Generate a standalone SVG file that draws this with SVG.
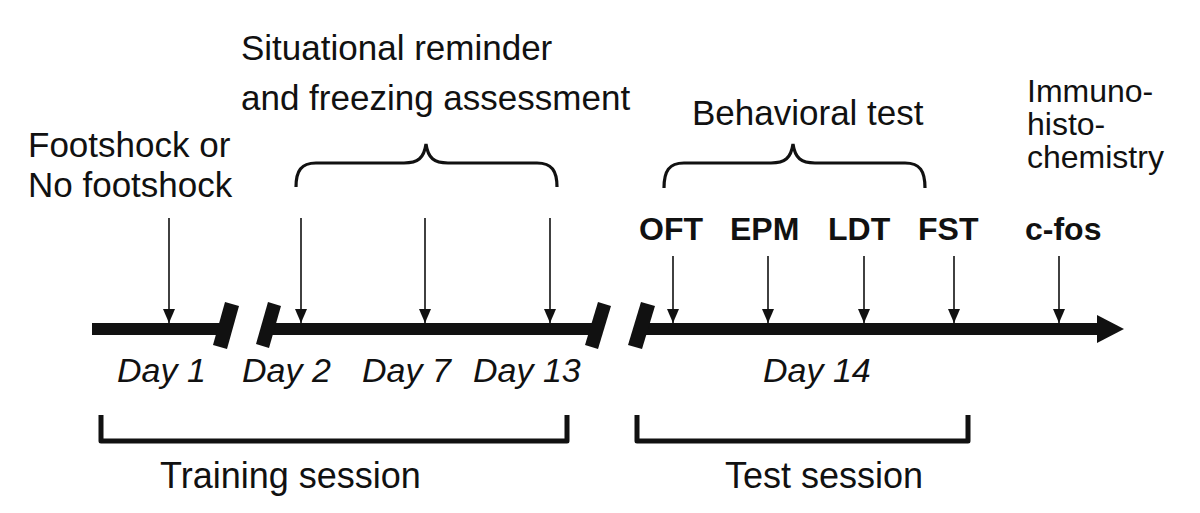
<svg xmlns="http://www.w3.org/2000/svg" width="1200" height="513" viewBox="0 0 1200 513">
<style>
text{font-family:"Liberation Sans",Arial,sans-serif;fill:#111}
.lbl{font-size:35px}
.day{font-size:34px;font-style:italic}
.bold{font-size:32px;font-weight:bold}
.ses{font-size:36px}
.ih{font-size:32px}
.thin{stroke:#111;stroke-width:1.6;fill:none}
.brace{stroke:#111;stroke-width:3.2;fill:none}
.brk{stroke:#111;stroke-width:5;fill:none;stroke-linejoin:round}
.axis{stroke:#111;stroke-width:12;fill:none}
.slash{fill:#111}
</style>
<defs>
<marker id="ah" viewBox="0 0 14 12" refX="14" refY="6" markerWidth="14" markerHeight="12" markerUnits="userSpaceOnUse" orient="auto">
<path d="M0,0 L14,6 L0,12 Z" fill="#111"/>
</marker>
</defs>
<rect width="1200" height="513" fill="#fff"/>

<g id="timeline">
<line class="axis" x1="92" y1="329" x2="228" y2="329"/>
<line class="axis" x1="268" y1="329" x2="600" y2="329"/>
<line class="axis" x1="642" y1="329" x2="1100" y2="329"/>
<polygon points="1097,315 1124,329 1097,343" fill="#111"/>
<polygon class="slash" points="225,302 239,306 227,349 213,345"/>
<polygon class="slash" points="268,302 281,306 269,348 256,344"/>
<polygon class="slash" points="598,302 611,306 598,349 585,345"/>
<polygon class="slash" points="641,302 655,306 642,349 628,345"/>
</g>

<g id="connectors">
<line class="thin" x1="169" y1="218" x2="169" y2="323" marker-end="url(#ah)"/>
<line class="thin" x1="301" y1="218" x2="301" y2="323" marker-end="url(#ah)"/>
<line class="thin" x1="425" y1="218" x2="425" y2="323" marker-end="url(#ah)"/>
<line class="thin" x1="550" y1="218" x2="550" y2="323" marker-end="url(#ah)"/>
<line class="thin" x1="673" y1="256" x2="673" y2="323" marker-end="url(#ah)"/>
<line class="thin" x1="768" y1="256" x2="768" y2="323" marker-end="url(#ah)"/>
<line class="thin" x1="864" y1="256" x2="864" y2="323" marker-end="url(#ah)"/>
<line class="thin" x1="954" y1="256" x2="954" y2="323" marker-end="url(#ah)"/>
<line class="thin" x1="1059" y1="256" x2="1059" y2="323" marker-end="url(#ah)"/>
</g>

<g id="braces">
<path class="brace" d="M296,187 C296,171 301,163 316,163 L404,163 C418,163 424,158 426,144 C428,158 434,163 448,163 L537,163 C552,163 557,171 557,187"/>
<path class="brace" d="M664,188 C664,171 669,163 684,163 L771,163 C785,163 791,158 793,144 C795,158 801,163 815,163 L905,163 C920,163 925,171 925,188"/>
<path class="brk" d="M101,415 L101,441 L567,441 L567,415"/>
<path class="brk" d="M637,415 L637,441 L968,441 L968,415"/>
</g>

<g id="footshock">
<text class="lbl" x="28" y="157">Footshock or</text>
<text class="lbl" x="28" y="197">No footshock</text>
</g>
<g id="situational">
<text class="lbl" x="241" y="60">Situational reminder</text>
<text class="lbl" x="241" y="110">and freezing assessment</text>
</g>
<g id="behavioral">
<text class="lbl" x="692" y="125">Behavioral test</text>
</g>
<g id="immuno">
<text class="ih" x="1027" y="102">Immuno-</text>
<text class="ih" x="1027" y="135">histo-</text>
<text class="ih" x="1027" y="168">chemistry</text>
</g>
<g id="tests">
<text class="bold" x="639" y="240">OFT</text>
<text class="bold" x="730" y="240">EPM</text>
<text class="bold" x="828" y="240">LDT</text>
<text class="bold" x="918" y="240">FST</text>
<text class="bold" x="1025" y="240">c-fos</text>
</g>
<g id="days">
<text class="day" x="117" y="382">Day 1</text>
<text class="day" x="242" y="382">Day 2</text>
<text class="day" x="362" y="382">Day 7</text>
<text class="day" x="473" y="382">Day 13</text>
<text class="day" x="763" y="382">Day 14</text>
</g>
<g id="sessions">
<text class="ses" x="160" y="488">Training session</text>
<text class="ses" x="725" y="488">Test session</text>
</g>
</svg>
